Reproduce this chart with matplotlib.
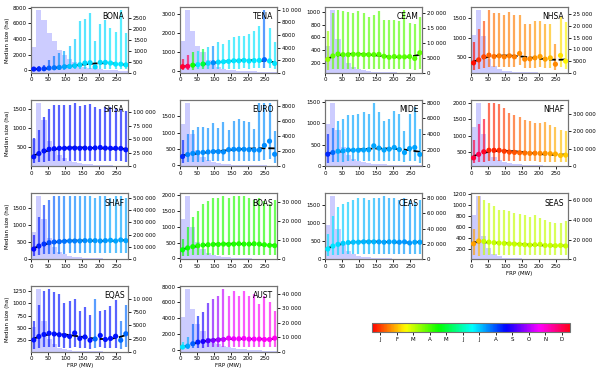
import numpy as np
import matplotlib.pyplot as plt
from matplotlib import colors, cm
from matplotlib.ticker import FuncFormatter, MaxNLocator

# FRP bin centres (15 MW bins, 0-285)
frp = np.arange(7.5, 285, 15)
month_letters = ['J', 'F', 'M', 'A', 'M', 'J', 'J', 'A', 'S', 'O', 'N', 'D']

# per region: median size, 25th / 75th pct, mean month of fires, fire count per bin
bona_med = [170, 170, 210, 300, 340, 380, 470, 510, 600, 720, 940, 980, 450, 1020, 1020, 940, 800, 800, 700]
bona_lo = [60, 60, 70, 80, 90, 100, 110, 120, 130, 150, 160, 170, 120, 180, 170, 160, 150, 150, 130]
bona_hi = [300, 510, 720, 1280, 1870, 2200, 2450, 3060, 4000, 6250, 6550, 7300, 3700, 5950, 6470, 5400, 4900, 7700, 4770]
bona_mon = [8.4, 8.3, 8.1, 7.9, 7.7, 7.5, 7.3, 7.1, 7.0, 6.9, 6.9, 6.9, 6.9, 6.9, 6.9, 6.8, 6.8, 6.8, 6.8]
bona_cnt = [1170, 2830, 2380, 1820, 1420, 1015, 830, 640, 485, 330, 290, 240, 200, 170, 150, 135, 120, 105, 95]

tena_med = [230, 250, 310, 340, 370, 410, 440, 470, 490, 510, 540, 540, 560, 530, 550, 560, 600, 530, 400]
tena_lo = [60, 70, 80, 90, 100, 100, 110, 110, 120, 120, 130, 130, 140, 130, 140, 140, 150, 140, 120]
tena_hi = [650, 850, 1000, 1050, 1150, 1250, 1300, 1500, 1400, 1650, 1800, 1850, 1850, 1950, 2100, 2350, 3200, 2250, 1550]
tena_mon = [12.3, 12.0, 4.4, 6.8, 5.0, 6.9, 7.5, 6.9, 6.8, 6.8, 6.8, 6.8, 6.8, 6.8, 6.8, 6.8, 7.8, 6.8, 6.8]
tena_cnt = [5000, 9900, 6700, 4200, 3300, 2000, 1400, 900, 630, 500, 420, 360, 310, 270, 240, 210, 190, 170, 150]

ceam_med = [255, 310, 340, 330, 330, 335, 335, 330, 330, 330, 335, 305, 290, 300, 295, 295, 300, 270, 360]
ceam_lo = [90, 100, 110, 110, 110, 110, 110, 110, 110, 110, 110, 100, 100, 100, 100, 100, 100, 95, 110]
ceam_hi = [700, 980, 1030, 1010, 995, 980, 1010, 980, 925, 955, 1010, 880, 880, 870, 860, 1030, 825, 810, 915]
ceam_mon = [3.4, 3.8, 3.9, 3.9, 3.9, 3.9, 3.9, 3.9, 3.9, 3.9, 3.9, 3.9, 3.9, 3.9, 3.9, 3.9, 3.9, 3.9, 3.8]
ceam_cnt = [8900, 21000, 11500, 6600, 3200, 2000, 1250, 900, 600, 450, 350, 250, 200, 150, 120, 100, 80, 70, 60]

nhsa_med = [364, 440, 517, 559, 525, 542, 517, 542, 517, 602, 458, 466, 491, 525, 458, 491, 330, 551, 407]
nhsa_lo = [185, 200, 230, 250, 250, 260, 260, 260, 260, 300, 240, 230, 240, 250, 230, 240, 190, 260, 200]
nhsa_hi = [900, 1220, 1430, 1700, 1620, 1620, 1585, 1640, 1585, 1585, 1360, 1360, 1415, 1415, 1350, 1360, 840, 1530, 1390]
nhsa_mon = [0.6, 0.9, 1.1, 1.3, 1.4, 1.5, 1.5, 1.5, 1.5, 1.6, 1.6, 1.6, 1.7, 1.8, 1.8, 2.0, 1.6, 2.3, 2.5]
nhsa_cnt = [16000, 26700, 15600, 6000, 3100, 1700, 1000, 700, 500, 400, 300, 250, 200, 150, 120, 100, 80, 60, 50]

shsa_med = [245, 330, 400, 445, 460, 470, 470, 475, 475, 470, 475, 470, 480, 490, 475, 470, 470, 465, 430]
shsa_lo = [80, 100, 120, 130, 140, 140, 140, 140, 140, 140, 140, 140, 140, 140, 140, 140, 140, 130, 120]
shsa_hi = [730, 950, 1300, 1500, 1620, 1620, 1600, 1600, 1660, 1580, 1600, 1640, 1560, 1500, 1550, 1560, 1540, 1500, 1450]
shsa_mon = [8.5] * 19
shsa_cnt = [50000, 116000, 86000, 47000, 32000, 20000, 14000, 9600, 7000, 5000, 4000, 3000, 2500, 2000, 1500, 1200, 1000, 800, 700]

euro_med = [270, 330, 365, 387, 395, 410, 420, 420, 410, 480, 490, 490, 490, 480, 470, 470, 610, 740, 340]
euro_lo = [70, 90, 100, 110, 110, 120, 120, 120, 120, 130, 130, 130, 130, 130, 130, 130, 150, 180, 80]
euro_hi = [790, 950, 1080, 1170, 1170, 1150, 1280, 1130, 1320, 1080, 1350, 1430, 1350, 1340, 1100, 1900, 1900, 1900, 1050]
euro_mon = [8.3, 7.6, 7.5, 7.5, 7.5, 7.5, 7.5, 7.5, 7.5, 7.5, 7.5, 7.5, 7.5, 7.5, 7.5, 7.5, 7.5, 7.5, 7.5]
euro_cnt = [5600, 8300, 4300, 2100, 1200, 800, 560, 400, 300, 250, 200, 150, 130, 110, 100, 90, 80, 70, 60]

mide_med = [270, 310, 340, 350, 370, 365, 365, 370, 375, 470, 415, 370, 390, 430, 380, 310, 405, 430, 265]
mide_lo = [60, 80, 90, 90, 100, 100, 100, 100, 100, 120, 110, 100, 100, 110, 100, 80, 110, 110, 70]
mide_hi = [760, 900, 1070, 1100, 1200, 1210, 1220, 1260, 1230, 1480, 1270, 1060, 1110, 1290, 1220, 820, 1230, 1400, 870]
mide_mon = [8.3, 7.8, 7.3, 7.3, 7.3, 7.3, 7.3, 7.3, 7.3, 7.3, 7.3, 7.3, 7.3, 7.3, 7.3, 7.3, 7.3, 7.3, 7.3]
mide_cnt = [5300, 7900, 4500, 2400, 1350, 900, 600, 450, 350, 300, 250, 200, 170, 150, 130, 110, 100, 90, 80]

nhaf_med = [310, 420, 500, 545, 545, 545, 515, 490, 480, 470, 460, 450, 455, 450, 450, 440, 430, 385, 395]
nhaf_lo = [150, 170, 190, 210, 220, 220, 220, 210, 200, 200, 200, 200, 200, 190, 190, 190, 190, 170, 170]
nhaf_hi = [850, 1350, 1500, 2000, 2000, 1980, 1850, 1700, 1650, 1570, 1470, 1450, 1400, 1400, 1410, 1330, 1260, 1180, 1150]
nhaf_mon = [12.2, 12.0, 12.4, 0.8, 0.8, 0.9, 1.0, 1.1, 1.2, 1.3, 1.4, 1.5, 1.5, 1.6, 1.7, 1.8, 1.9, 2.0, 2.1]
nhaf_cnt = [227000, 361000, 185000, 90000, 52000, 33000, 23000, 16000, 12000, 9000, 7000, 5500, 4500, 3500, 3000, 2500, 2000, 1700, 1500]

shaf_med = [290, 380, 440, 480, 500, 510, 520, 530, 530, 530, 540, 540, 540, 530, 540, 550, 530, 560, 540]
shaf_lo = [80, 110, 130, 140, 150, 150, 150, 160, 160, 160, 160, 160, 160, 160, 160, 160, 160, 160, 160]
shaf_hi = [700, 1250, 1600, 1750, 1850, 1850, 1850, 1850, 1850, 1850, 1850, 1850, 1800, 1850, 1850, 1800, 1850, 1850, 1800]
shaf_mon = [8.6, 8.4, 8.2, 8.0, 7.9, 7.8, 7.7, 7.6, 7.6, 7.5, 7.5, 7.4, 7.4, 7.4, 7.4, 7.3, 7.3, 7.3, 7.3]
shaf_cnt = [220000, 510000, 330000, 170000, 100000, 60000, 40000, 28000, 20000, 15000, 11000, 9000, 7000, 6000, 5000, 4000, 3500, 3000, 2500]

boas_med = [270, 330, 370, 400, 420, 430, 440, 440, 450, 440, 450, 460, 450, 450, 460, 450, 430, 410, 400]
boas_lo = [70, 90, 100, 110, 120, 120, 120, 120, 120, 120, 120, 120, 120, 120, 120, 120, 110, 110, 110]
boas_hi = [600, 1000, 1300, 1500, 1700, 1800, 1900, 1900, 1950, 1900, 1950, 1950, 1950, 1900, 1850, 1900, 1800, 1700, 1850]
boas_mon = [4.6, 4.5, 4.4, 4.3, 4.3, 4.3, 4.3, 4.3, 4.3, 4.3, 4.3, 4.3, 4.3, 4.3, 4.3, 4.3, 4.3, 4.3, 4.3]
boas_cnt = [21000, 33000, 17000, 9000, 5500, 3500, 2300, 1600, 1200, 900, 700, 550, 450, 380, 320, 270, 230, 200, 170]

ceas_med = [280, 360, 410, 440, 460, 470, 470, 480, 480, 480, 480, 470, 480, 480, 470, 480, 450, 470, 470]
ceas_lo = [80, 100, 120, 130, 130, 140, 140, 140, 140, 140, 140, 140, 140, 140, 140, 140, 130, 130, 130]
ceas_hi = [700, 1200, 1450, 1550, 1600, 1650, 1700, 1700, 1650, 1700, 1700, 1750, 1700, 1700, 1650, 1700, 1650, 1600, 1650]
ceas_mon = [6.8, 6.8, 6.9, 7.0, 7.0, 7.1, 7.1, 7.2, 7.2, 7.2, 7.3, 7.3, 7.3, 7.3, 7.4, 7.4, 7.4, 7.3, 7.3]
ceas_cnt = [45000, 82000, 40000, 20000, 11000, 7000, 4500, 3200, 2400, 1800, 1400, 1100, 900, 750, 600, 500, 450, 400, 350]

seas_med = [300, 350, 343, 330, 320, 313, 307, 300, 295, 290, 283, 277, 283, 290, 270, 270, 265, 270, 260]
seas_lo = [100, 75, 90, 100, 100, 100, 100, 100, 100, 100, 100, 100, 100, 100, 100, 100, 100, 100, 100]
seas_hi = [560, 1160, 1100, 1040, 980, 920, 910, 890, 860, 840, 820, 790, 820, 770, 740, 690, 670, 680, 710]
seas_mon = [1.8, 2.0, 3.0, 3.0, 3.0, 3.0, 3.0, 3.0, 3.0, 3.0, 3.0, 3.0, 3.0, 3.0, 3.0, 3.0, 3.0, 3.0, 3.0]
seas_cnt = [45000, 64000, 24000, 11800, 5700, 3400, 1700, 1200, 900, 700, 500, 400, 350, 300, 250, 200, 180, 160, 140]

eqas_med = [260, 330, 370, 395, 380, 365, 350, 330, 400, 290, 320, 255, 280, 350, 270, 290, 335, 255, 385]
eqas_lo = [80, 100, 110, 120, 110, 110, 100, 100, 110, 90, 100, 80, 90, 110, 90, 90, 100, 80, 110]
eqas_hi = [650, 970, 1240, 1280, 1230, 1180, 1000, 1050, 1090, 850, 920, 760, 1080, 850, 870, 950, 1070, 650, 960]
eqas_mon = [8.5, 8.5, 8.5, 8.5, 8.5, 8.5, 8.5, 8.5, 8.5, 8.5, 8.5, 8.5, 7.8, 8.5, 8.5, 8.5, 8.5, 7.8, 7.8]
eqas_cnt = [4600, 11800, 5900, 2400, 1400, 800, 500, 350, 250, 200, 160, 130, 110, 90, 80, 70, 60, 50, 40]

aust_med = [340, 460, 760, 970, 1050, 1140, 1180, 1260, 1300, 1470, 1390, 1390, 1430, 1350, 1350, 1350, 1300, 1300, 1470]
aust_lo = [100, 150, 200, 250, 280, 300, 300, 320, 330, 350, 340, 340, 340, 330, 330, 330, 320, 320, 340]
aust_hi = [970, 1600, 3280, 4340, 4760, 5900, 6440, 6860, 7700, 6860, 7500, 6860, 7400, 6860, 7070, 5810, 6860, 6020, 4970]
aust_mon = [6.8, 7.3, 7.9, 8.4, 8.8, 9.2, 9.6, 9.9, 10.2, 10.5, 10.5, 10.6, 10.6, 10.6, 10.6, 10.7, 10.7, 10.7, 10.8]
aust_cnt = [24000, 43000, 29500, 19000, 14400, 9800, 6300, 5100, 4000, 3300, 2600, 2100, 1700, 1400, 1200, 1000, 850, 700, 600]

regions = ['BONA', 'TENA', 'CEAM', 'NHSA', 'SHSA', 'EURO', 'MIDE', 'NHAF',
           'SHAF', 'BOAS', 'CEAS', 'SEAS', 'EQAS', 'AUST']
series = [
    (bona_med, bona_lo, bona_hi, bona_mon, bona_cnt),
    (tena_med, tena_lo, tena_hi, tena_mon, tena_cnt),
    (ceam_med, ceam_lo, ceam_hi, ceam_mon, ceam_cnt),
    (nhsa_med, nhsa_lo, nhsa_hi, nhsa_mon, nhsa_cnt),
    (shsa_med, shsa_lo, shsa_hi, shsa_mon, shsa_cnt),
    (euro_med, euro_lo, euro_hi, euro_mon, euro_cnt),
    (mide_med, mide_lo, mide_hi, mide_mon, mide_cnt),
    (nhaf_med, nhaf_lo, nhaf_hi, nhaf_mon, nhaf_cnt),
    (shaf_med, shaf_lo, shaf_hi, shaf_mon, shaf_cnt),
    (boas_med, boas_lo, boas_hi, boas_mon, boas_cnt),
    (ceas_med, ceas_lo, ceas_hi, ceas_mon, ceas_cnt),
    (seas_med, seas_lo, seas_hi, seas_mon, seas_cnt),
    (eqas_med, eqas_lo, eqas_hi, eqas_mon, eqas_cnt),
    (aust_med, aust_lo, aust_hi, aust_mon, aust_cnt),
]

cmap = plt.get_cmap('hsv')
norm = colors.Normalize(0.5, 12.5)
nice_steps = [1, 2, 2.5, 5, 10]


def count_fmt(v, pos):
    if v >= 10000:
        return f'{v:,.0f}'.replace(',', ' ')
    return f'{v:.0f}'


fig = plt.figure(figsize=(6, 3.74), dpi=100)
lefts = [0.052, 0.30, 0.542, 0.785]
bottoms = [0.805, 0.556, 0.307, 0.059]
w, h = 0.162, 0.176

for i, name in enumerate(regions):
    med, lo, hi, mon, cnt = [np.array(a, dtype=float) for a in series[i]]
    ax = fig.add_axes([lefts[i % 4], bottoms[i // 4], w, h])
    ax2 = ax.twinx()
    ax2.bar(frp, cnt, width=15, color='blue', alpha=0.2, linewidth=0)
    ax.set_zorder(ax2.get_zorder() + 1)
    ax.patch.set_visible(False)

    cols = cmap(norm(mon))
    ax.vlines(frp, lo, hi, colors=cols, lw=1.6, alpha=0.65, zorder=2)
    p = np.polyfit(frp, med, 3)
    xs = np.linspace(frp[0], frp[-1], 100)
    ax.plot(xs, np.polyval(p, xs), 'k--', lw=1.3, zorder=3)
    ax.scatter(frp, med, c=cols, s=14, zorder=4, linewidths=0)

    ax.set_xlim(0, 285)
    ax.set_xticks([0, 50, 100, 150, 200, 250])
    ax.yaxis.set_major_locator(MaxNLocator(6, steps=nice_steps))
    ax2.yaxis.set_major_locator(MaxNLocator(6, steps=nice_steps))
    ax2.yaxis.set_major_formatter(FuncFormatter(count_fmt))
    for a in (ax, ax2):
        a.tick_params(labelsize=4, length=2, width=0.6, pad=1.2)
        for s in a.spines.values():
            s.set_color('0.45')
            s.set_linewidth(0.8)
    ax.text(0.96, 0.92, name, transform=ax.transAxes, ha='right', va='top', fontsize=5.5)
    if i % 4 == 0:
        ax.set_ylabel('Median size (ha)', fontsize=4, labelpad=2)
    if i >= 11:
        ax.set_xlabel('FRP (MW)', fontsize=4, labelpad=1.5)

cax = fig.add_axes([0.62, 0.112, 0.33, 0.024])
sm = cm.ScalarMappable(norm=norm, cmap=cmap)
cb = fig.colorbar(sm, cax=cax, orientation='horizontal', ticks=range(1, 13))
cb.ax.set_xticklabels(month_letters)
cb.ax.tick_params(labelsize=4, length=2, width=0.6, pad=1.5)
cb.outline.set_edgecolor('0.45')

fig.savefig('out.png', dpi=100)
